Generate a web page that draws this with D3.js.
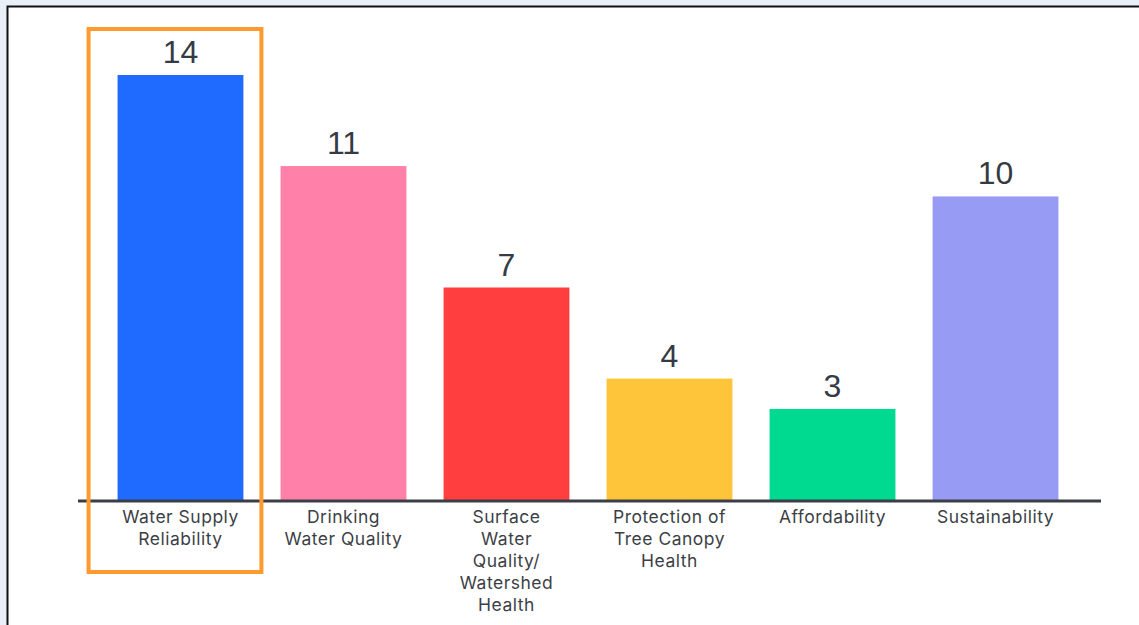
<!DOCTYPE html>
<html><head><meta charset="utf-8">
<script src="https://cdn.jsdelivr.net/npm/d3@7"></script>
<style>
html,body{margin:0;padding:0;background:#e9f0f8;}
svg{display:block;}
</style></head>
<body>
<script>
const categories = ["Water Supply Reliability","Drinking Water Quality","Surface Water Quality/ Watershed Health","Protection of Tree Canopy Health","Affordability","Sustainability"];
const labelLines = [["Water Supply","Reliability"],["Drinking","Water Quality"],["Surface","Water","Quality/","Watershed","Health"],["Protection of","Tree Canopy","Health"],["Affordability"],["Sustainability"]];
const values = [14,11,7,4,3,10];
const colors = ["#1f6bff","#ff80a8","#ff3f3f","#ffc53a","#00d990","#979bf3"];
const highlighted = "Water Supply Reliability";

const W = 1139, H = 625;
const svg = d3.select("body").append("svg").attr("width",W).attr("height",H);
// panel
svg.append("rect").attr("x",7.5).attr("y",6.5).attr("width",W).attr("height",H).attr("fill","#fff").attr("stroke","#111").attr("stroke-width",2);

const x = d3.scaleBand().domain(categories).range([98,1078]).paddingInner(0.228).paddingOuter(0.12);
const y = d3.scaleLinear().domain([0,14]).range([500,75]);

svg.selectAll("rect.bar").data(categories).join("rect").attr("class","bar")
  .attr("x",d=>x(d)).attr("width",x.bandwidth())
  .attr("y",(d,i)=>y(values[i])).attr("height",(d,i)=>y(0)-y(values[i]))
  .attr("fill",(d,i)=>colors[i]);

svg.selectAll("text.val").data(categories).join("text").attr("class","val")
  .attr("x",d=>x(d)+x.bandwidth()/2).attr("y",(d,i)=>y(values[i])-12)
  .attr("text-anchor","middle").attr("font-family","Liberation Sans, Arial, sans-serif")
  .attr("font-size",32).attr("fill","#353b45").text((d,i)=>values[i]);

// axis line
svg.append("line").attr("x1",78).attr("x2",1101).attr("y1",501).attr("y2",501).attr("stroke","#3a3f47").attr("stroke-width",3);

// category labels
const lab = svg.selectAll("text.cat").data(categories).join("text").attr("class","cat")
  .attr("text-anchor","middle").attr("font-family","Inter, 'Open Sans', sans-serif")
  .attr("font-size",17.5).attr("letter-spacing",0.5).attr("fill","#3c3f46");
lab.each(function(d,i){
  const t = d3.select(this);
  labelLines[i].forEach((l,j)=>{
    t.append("tspan").attr("x",x(d)+x.bandwidth()/2).attr("y",523+j*22).text(l);
  });
});

// highlight box
const hx = x(highlighted);
svg.append("rect").attr("x",hx-29).attr("y",29).attr("width",x.bandwidth()+47).attr("height",543)
  .attr("fill","none").attr("stroke","#ff9a2e").attr("stroke-width",4);
</script>
</body></html>
